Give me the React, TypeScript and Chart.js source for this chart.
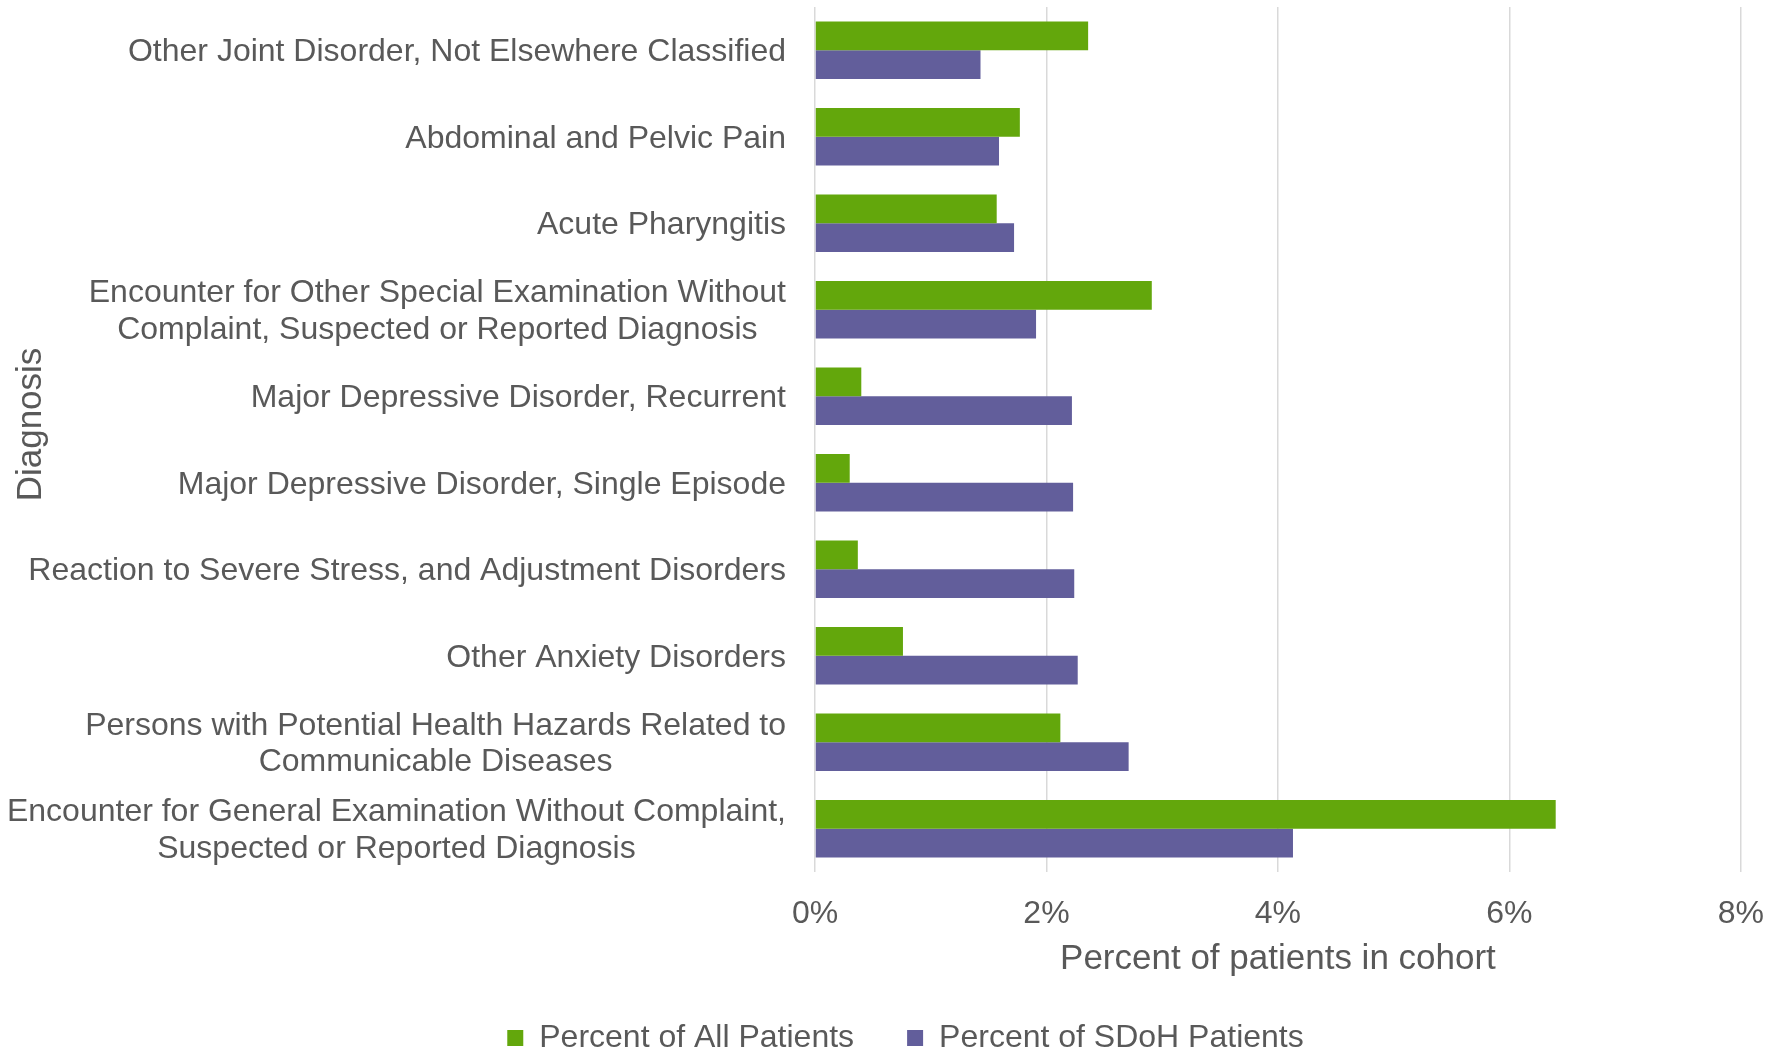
import React, { useEffect, useRef } from 'react';
import { Chart, registerables } from 'chart.js';

Chart.register(...registerables);

const categories: (string | string[])[] = [
  'Other Joint Disorder, Not Elsewhere Classified',
  'Abdominal and Pelvic Pain',
  'Acute Pharyngitis',
  ['Encounter for Other Special Examination Without', 'Complaint, Suspected or Reported Diagnosis'],
  'Major Depressive Disorder, Recurrent',
  'Major Depressive Disorder, Single Episode',
  'Reaction to Severe Stress, and Adjustment Disorders',
  'Other Anxiety Disorders',
  ['Persons with Potential Health Hazards Related to', 'Communicable Diseases'],
  ['Encounter for General Examination Without Complaint,', 'Suspected or Reported Diagnosis'],
];

const allPatients = [2.36, 1.77, 1.57, 2.91, 0.4, 0.3, 0.37, 0.76, 2.12, 6.4];
const sdohPatients = [1.43, 1.59, 1.72, 1.91, 2.22, 2.23, 2.24, 2.27, 2.71, 4.13];
const seriesNames = ['Percent of All Patients', 'Percent of SDoH Patients'];
const xTickValues = [0, 2, 4, 6, 8];
const xTitle = 'Percent of patients in cohort';
const yTitle = 'Diagnosis';

const FONT = '"Liberation Sans", Arial, sans-serif';
const TEXT = '#595959';
const GREEN = '#63A70C';
const PURPLE = '#625E9B';

const yLabelPlugin = {
  id: 'yLabels',
  afterDraw(chart: any) {
    const scale = chart.scales.y;
    const ctx = chart.ctx;
    ctx.save();
    ctx.font = `32px ${FONT}`;
    ctx.fillStyle = TEXT;
    ctx.textBaseline = 'middle';
    ctx.textAlign = 'center';
    const lh = 36.5;
    const right = scale.right - 29;
    (chart.data.labels as any[]).forEach((lab, i) => {
      const lines: string[] = Array.isArray(lab) ? lab : [lab];
      const w = Math.max(...lines.map((l) => ctx.measureText(l).width));
      const cx = right - w / 2;
      const cy = scale.getPixelForValue(i) + 2;
      lines.forEach((l, k) => {
        ctx.fillText(l, cx, cy + (k - (lines.length - 1) / 2) * lh);
      });
    });
    // rotated axis title
    ctx.font = `35px ${FONT}`;
    ctx.translate(31, (chart.chartArea.top + chart.chartArea.bottom) / 2 - 15);
    ctx.rotate(-Math.PI / 2);
    ctx.fillText(yTitle, 0, 0);
    ctx.restore();
  },
};

const legendShift = {
  id: 'legendShift',
  afterLayout(chart: any) {
    const lg = chart.legend;
    if (!lg) return;
    lg.left += 33;
    lg.right += 33;
    lg.top -= 23;
  },
};

export default function App() {
  const ref = useRef<HTMLCanvasElement | null>(null);

  useEffect(() => {
    if (!ref.current) return;
    const chart = new Chart(ref.current, {
      type: 'bar',
      data: {
        labels: categories as any,
        datasets: [
          { label: seriesNames[0], data: allPatients, backgroundColor: GREEN, borderWidth: 0 },
          { label: seriesNames[1], data: sdohPatients, backgroundColor: PURPLE, borderWidth: 0 },
        ],
      },
      options: {
        indexAxis: 'y',
        responsive: false,
        animation: false,
        layout: { padding: { top: 7, right: 42, left: 0, bottom: 0 } },
        datasets: { bar: { categoryPercentage: 0.662, barPercentage: 1 } },
        plugins: {
          legend: {
            position: 'bottom',
            maxHeight: 60,
            labels: {
              boxWidth: 16,
              boxHeight: 16,
              padding: 53,
              color: TEXT,
              font: { family: FONT, size: 32 },
            },
          },
          tooltip: { enabled: false },
        },
        scales: {
          x: {
            min: 0,
            max: 8,
            afterBuildTicks: (s: any) => {
              s.ticks = xTickValues.map((v) => ({ value: v }));
            },
            ticks: {
              callback: (v: any) => v + '%',
              padding: 23,
              color: TEXT,
              font: { family: FONT, size: 32 },
            },
            grid: { color: '#D9D9D9', lineWidth: 1.5, drawTicks: false },
            border: { display: false },
            title: {
              display: true,
              text: xTitle,
              color: TEXT,
              font: { family: FONT, size: 35 },
              padding: { top: 0, bottom: 12 },
            },
            afterFit: (s: any) => {
              s.height = 120;
            },
          },
          y: {
            ticks: { display: false },
            grid: { display: false },
            border: { display: false },
            title: { display: false },
            afterFit: (s: any) => {
              s.width = 815;
            },
          },
        },
      } as any,
      plugins: [yLabelPlugin, legendShift],
    });
    return () => chart.destroy();
  }, []);

  return (
    <div style={{ position: 'absolute', left: 0, top: 0, width: 1787, height: 1052, background: '#fff' }}>
      <canvas ref={ref} width={1787} height={1052} style={{ width: 1787, height: 1052, display: 'block' }} />
    </div>
  );
}
